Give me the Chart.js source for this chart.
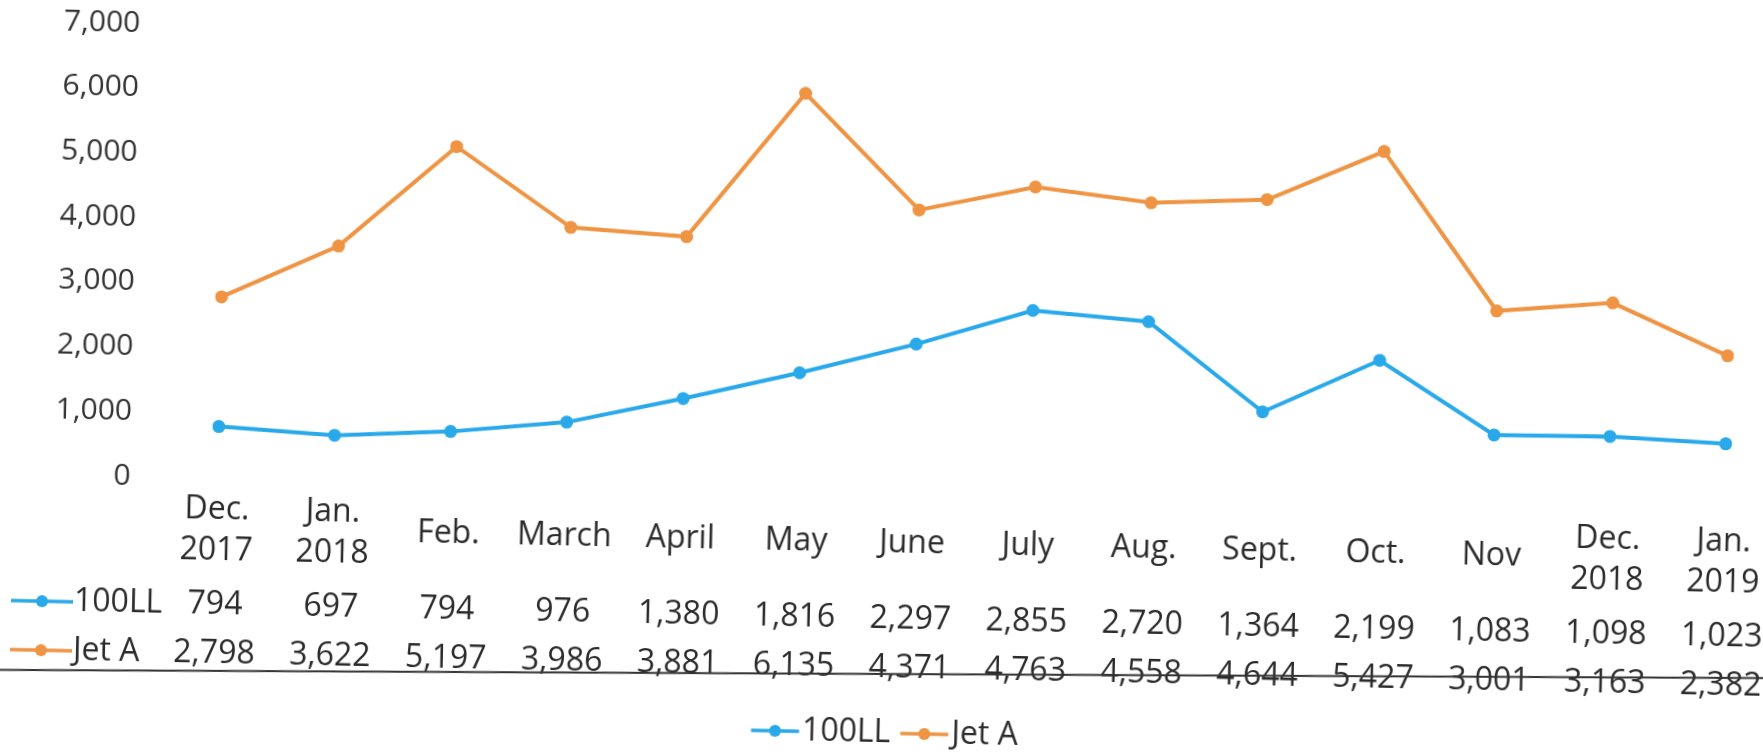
<!DOCTYPE html>
<html>
<head>
<meta charset="utf-8">
<script src="https://cdn.jsdelivr.net/npm/chart.js@4.4.1/dist/chart.umd.min.js"></script>
<style>
  html, body { margin: 0; padding: 0; background: #fff; overflow: hidden; }
  #wrap { position: relative; width: 1763px; height: 752px; overflow: hidden; }
  /* the source is a scan that sits about 1.2 degrees off level;
     the canvas is 20px bigger on every side so the turned corners stay filled */
  #chart { position: absolute; left: -20px; top: -20px; display: block;
           transform: rotate(1.22deg); transform-origin: 901px 396px; }
</style>
</head>
<body>
<div id="wrap"><canvas id="chart" width="1803" height="792"></canvas></div>
<script>
const categories = [
  ['Dec.', '2017'], ['Jan.', '2018'], ['Feb.'], ['March'], ['April'], ['May'], ['June'],
  ['July'], ['Aug.'], ['Sept.'], ['Oct.'], ['Nov'], ['Dec.', '2018'], ['Jan.', '2019']
];
const seriesNames = ['100LL', 'Jet A'];
const values100LL = [794, 697, 794, 976, 1380, 1816, 2297, 2855, 2720, 1364, 2199, 1083, 1098, 1023];
const valuesJetA = [2798, 3622, 5197, 3986, 3881, 6135, 4371, 4763, 4558, 4644, 5427, 3001, 3163, 2382];
const yMin = 0;
const yMax = 7000;
const yStep = 1000;

const M = 20; // canvas margin
const BLUE = '#2aa9ea';
const ORANGE = '#ee9443';
const TEXT = '#2b2b2b';
const FONT = '"Open Sans", "DejaVu Sans", sans-serif';

const fmt = v => v.toLocaleString('en-US');

function drawKey(ctx, x, y, w, color) {
  ctx.save();
  ctx.strokeStyle = color;
  ctx.fillStyle = color;
  ctx.lineWidth = 3.5;
  ctx.beginPath();
  ctx.moveTo(x, y);
  ctx.lineTo(x + w, y);
  ctx.stroke();
  ctx.beginPath();
  ctx.arc(x + w / 2, y, 6, 0, Math.PI * 2);
  ctx.fill();
  ctx.restore();
}

// data table under the plot, drawn against the x scale
const dataTable = {
  id: 'dataTable',
  afterDraw(chart) {
    const ctx = chart.ctx;
    const xs = chart.scales.x;
    const rows = chart.data.datasets;
    const rowY = [619 + M, 668 + M];

    ctx.save();
    ctx.font = '32px ' + FONT;
    ctx.fillStyle = TEXT;
    ctx.textAlign = 'center';
    ctx.textBaseline = 'middle';

    categories.forEach((lines, i) => {
      const px = xs.getPixelForValue(i);
      if (lines.length === 2) {
        ctx.fillText(lines[0], px, 524 + M);
        ctx.fillText(lines[1], px, 565 + M);
      } else {
        ctx.fillText(lines[0], px, 543 + M);
      }
    });

    rows.forEach((ds, r) => {
      const y = rowY[r];
      ds.data.forEach((v, i) => {
        ctx.fillText(fmt(v), xs.getPixelForValue(i), y);
      });
      drawKey(ctx, 16 + M, y, 62, ds.borderColor);
      ctx.textAlign = 'left';
      ctx.fillText(ds.label, 79 + M, y);
      ctx.textAlign = 'center';
    });

    // legend at the bottom
    const keyW = 48, gap = 3, between = 10;
    const widths = rows.map(ds => keyW + gap + ctx.measureText(ds.label).width);
    const total = widths.reduce((a, b) => a + b, 0) + between * (rows.length - 1);
    let lx = 892 + M - total / 2;
    ctx.textAlign = 'left';
    rows.forEach((ds, r) => {
      drawKey(ctx, lx, 733 + M, keyW, ds.borderColor);
      ctx.fillText(ds.label, lx + keyW + gap, 733 + M);
      lx += widths[r] + between;
    });

    // rule across the bottom of the table
    ctx.strokeStyle = '#333';
    ctx.lineWidth = 2;
    ctx.beginPath();
    ctx.moveTo(0, 689 + M);
    ctx.lineTo(1803, 659 + M);
    ctx.stroke();
    ctx.restore();
  }
};

new Chart(document.getElementById('chart'), {
  type: 'line',
  data: {
    labels: categories,
    datasets: [
      {
        label: seriesNames[0],
        data: values100LL,
        borderColor: BLUE,
        backgroundColor: BLUE,
        pointBackgroundColor: BLUE
      },
      {
        label: seriesNames[1],
        data: valuesJetA,
        borderColor: ORANGE,
        backgroundColor: ORANGE,
        pointBackgroundColor: ORANGE
      }
    ]
  },
  options: {
    responsive: false,
    devicePixelRatio: 1,
    animation: false,
    layout: { padding: { left: M, right: 36 + M, top: 39 + M, bottom: 260 + M } },
    elements: {
      line: { borderWidth: 4, tension: 0 },
      point: { radius: 6.5, borderWidth: 0, hoverRadius: 6.5 }
    },
    plugins: {
      legend: { display: false },
      tooltip: { enabled: false }
    },
    scales: {
      x: {
        type: 'category',
        offset: false,
        grid: { display: false, drawTicks: false },
        border: { display: false },
        ticks: { display: false },
        afterFit: s => { s.height = 0; }
      },
      y: {
        min: yMin,
        max: yMax,
        grid: { display: false, drawTicks: true, tickLength: 84 },
        border: { display: false },
        ticks: {
          stepSize: yStep,
          padding: 3,
          color: '#333333',
          font: { family: FONT, size: 30 },
          callback: v => fmt(v)
        },
        afterFit: s => { s.width = 220; }
      }
    }
  },
  plugins: [dataTable]
});
</script>
</body>
</html>
